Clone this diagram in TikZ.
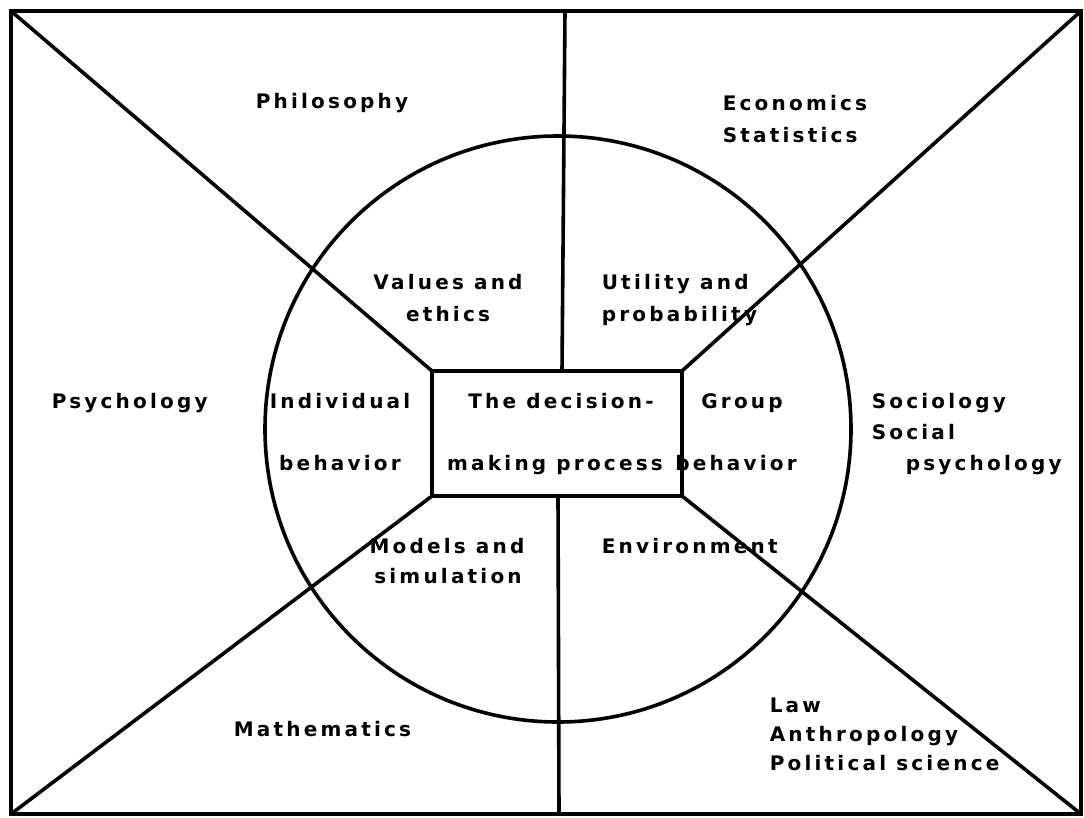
\documentclass[tikz,border=0pt]{standalone}
\usepackage{fontspec}
\newfontfamily\lblfont{DejaVu Sans}[LetterSpace=16]
\begin{document}
\begin{tikzpicture}[x=1pt,y=-1pt,line width=3.6pt,
  lbl/.style={font=\lblfont\bfseries\fontsize{20}{24}\selectfont,inner sep=0pt},
  lw/.style={lbl,anchor=base west},
  lc/.style={lbl,anchor=base}]
\useasboundingbox (0,0) rectangle (1084,817);
\coordinate (TL) at (11,11);
\coordinate (TR) at (1081,11);
\coordinate (BL) at (11,814);
\coordinate (BR) at (1081,814);
\coordinate (T) at (565,11);
\coordinate (B) at (559,814);
\node[draw,circle,minimum size=586pt,inner sep=0pt,outer sep=0pt] (circ) at (558,429) {};
\node[draw,fill=white,minimum width=250pt,minimum height=125pt,inner sep=0pt,outer sep=0pt] (box) at (557,433.5) {};
\draw (TL) rectangle (BR);
\draw (TL) -- (box.north west);
\draw (TR) -- (box.north east);
\draw (BL) -- (box.south west);
\draw (BR) -- (box.south east);
\draw (T) -- ([xshift=5pt]box.north);
\draw ([xshift=1pt]box.south) -- (B);
% labels
\node[lw] (phil) at (254,108) {Philosophy};
\node[lw] (econ) at (721,110) {Economics};
\node[lw] (stat) at (721,142) {Statistics};
\node[lc] (val) at (448,289) {Values and};
\node[lc] (eth) at (448,321) {ethics};
\node[lw] (util) at (600,289) {Utility and};
\node[lw] (prob) at (600,321) {probability};
\node[lc] (indiv) at (340,408) {Individual};
\node[lc] (ibeh) at (340,470) {behavior};
\node[lc] (dec) at (561,408) {The decision-};
\node[lc] (mak) at (555,470) {making process};
\node[lc] (grp) at (742,408) {Group};
\node[lc] (gbeh) at (736,470) {behavior};
\node[lw] (soc) at (870,408) {Sociology};
\node[lw] (socl) at (870,439) {Social};
\node[lw] (spsy) at (904,470) {psychology};
\node[lw] (psy) at (50,408) {Psychology};
\node[lc] (mod) at (447,553) {Models and};
\node[lc] (sim) at (448,583) {simulation};
\node[lw] (env) at (600,553) {Environment};
\node[lw] (math) at (232,736) {Mathematics};
\node[lw] (law) at (768,712) {Law};
\node[lw] (anth) at (768,741) {Anthropology};
\node[lw] (pol) at (768,770) {Political science};
\end{tikzpicture}
\end{document}
